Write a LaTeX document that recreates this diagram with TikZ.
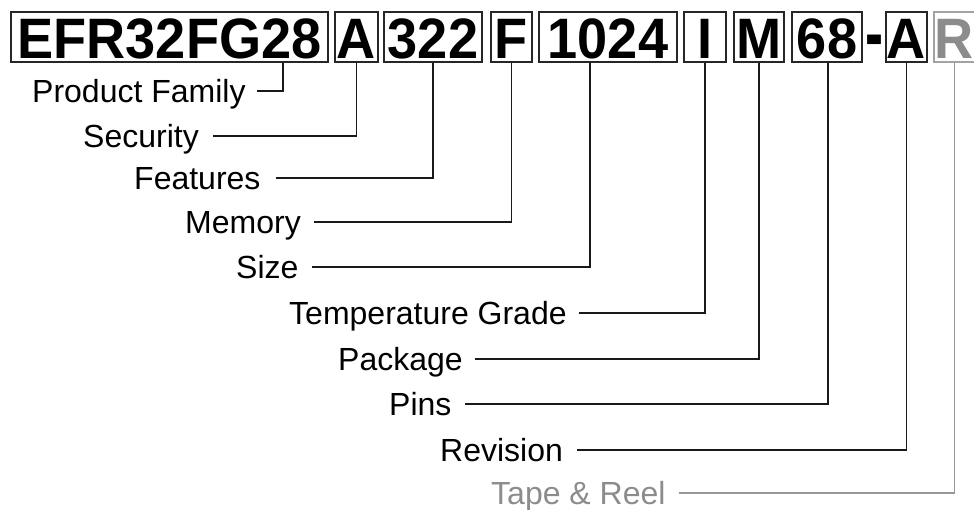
\documentclass[tikz,border=0pt]{standalone}
\usepackage{fontspec}
\setmainfont{Liberation Sans}
\newfontfamily\partfont[FakeStretch=0.95]{Liberation Sans Bold}
\usepackage{xcolor}
\usetikzlibrary{positioning}
\definecolor{reelgray}{HTML}{8C8C8C}

\tikzset{
	partbox/.style={draw=black!85,line width=1.5pt,fill=white,inner xsep=0pt,inner ysep=3pt,
		text height=44pt,text depth=0pt,font=\partfont\fontsize{57}{57}\selectfont},
	partlbl/.style={anchor=west,inner sep=0pt,text height=23pt,text depth=0pt,
		font=\fontsize{32}{32}\selectfont},
	lead/.style={line width=1.4pt,black!90}
}

\begin{document}
\begin{tikzpicture}[x=1pt,y=-1pt]
				\useasboundingbox (0,0) rectangle (974,510);
				
				% Codice d'ordine
				\node[partbox,minimum width=317pt] (fam) at (169.5,37) {EFR32FG28};
				\node[partbox,minimum width=43pt] (sec) at (356.5,37) {A};
				\node[partbox,minimum width=98pt] (feat) at (433,37) {322};
				\node[partbox,minimum width=41pt] (mem) at (511.5,37) {F};
				\node[partbox,minimum width=138pt] (size) at (608,37) {1024};
				\node[partbox,minimum width=42pt] (temp) at (705,37) {I};
				\node[partbox,minimum width=50pt] (pkg) at (759,37) {M};
				\node[partbox,minimum width=70pt] (pins) at (827,37) {68};
				\node[anchor=base,inner sep=0pt,font=\partfont\fontsize{57}{57}\selectfont] (dash) at (874.5,60.5) {\scalebox{1}[1.4]{-}};
				\node[partbox,minimum width=41pt] (rev) at (906.5,37) {A};
				\node[partbox,minimum width=41pt,draw=reelgray!80,text=reelgray] (tape) at (954.5,37) {R};
				
				% Etichette
				\node[partlbl] (famL) at (32,91) {Product Family};
				\node[partlbl] (secL) at (83,136) {Security};
				\node[partlbl] (featL) at (134,178) {Features};
				\node[partlbl] (memL) at (185,222) {Memory};
				\node[partlbl] (sizeL) at (236,267) {Size};
				\node[partlbl] (tempL) at (289,313) {Temperature Grade};
				\node[partlbl] (pkgL) at (338,359) {Package};
				\node[partlbl] (pinsL) at (389,404) {Pins};
				\node[partlbl] (revL) at (440,450) {Revision};
				\node[partlbl,text=reelgray] (tapeL) at (491,493) {Tape \& Reel};
				
				% Linee
				\draw[lead] ([xshift=11pt]famL.east) -| ([xshift=113.5pt]fam.south);
				\draw[lead] ([xshift=14pt]secL.east) -| (sec.south);
				\draw[lead] ([xshift=15pt]featL.east) -| (feat.south);
				\draw[lead] ([xshift=13pt]memL.east) -| (mem.south);
				\draw[lead] ([xshift=13pt]sizeL.east) -| ([xshift=-18pt]size.south);
				\draw[lead] ([xshift=12pt]tempL.east) -| (temp.south);
				\draw[lead] ([xshift=12pt]pkgL.east) -| (pkg.south);
				\draw[lead] ([xshift=13pt]pinsL.east) -| ([xshift=1pt]pins.south);
				\draw[lead] ([xshift=14pt]revL.east) -| (rev.south);
				\draw[lead,reelgray!90] ([xshift=13pt]tapeL.east) -| (tape.south);
				
\end{tikzpicture}
\end{document}
